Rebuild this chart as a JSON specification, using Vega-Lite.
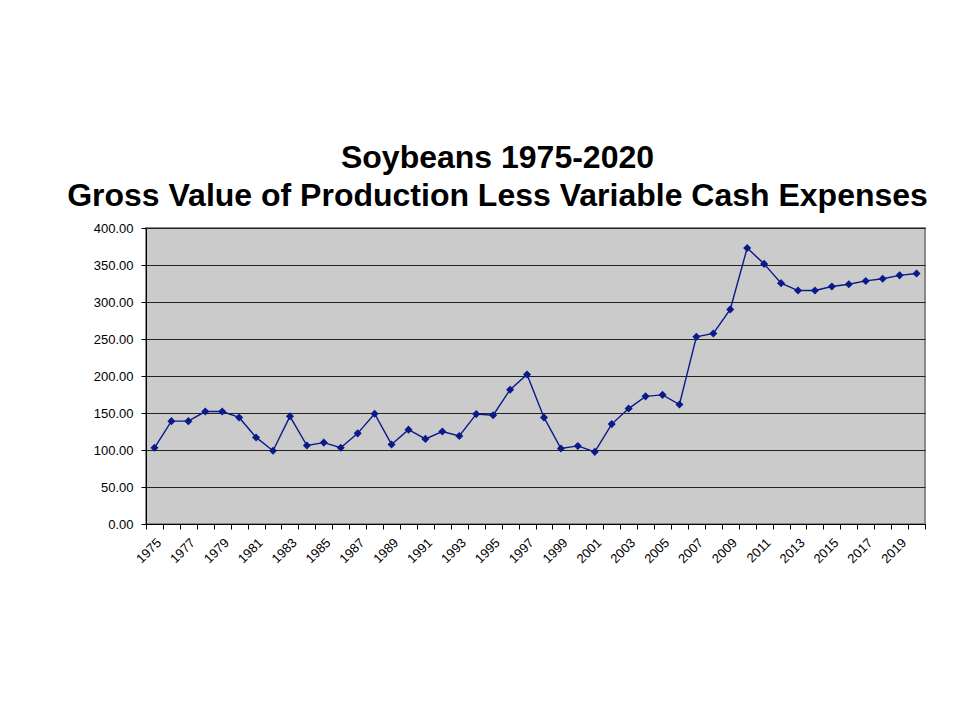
{
  "$schema": "https://vega.github.io/schema/vega-lite/v6.json",
  "autosize": {"type": "none"},
  "width": 779,
  "height": 296,
  "padding": {"left": 146, "top": 228, "right": 35, "bottom": 199},
  "background": "white",
  "title": {
    "text": ["Soybeans 1975-2020", "Gross Value of Production Less Variable Cash Expenses"],
    "font": "Liberation Sans",
    "fontSize": 32,
    "fontWeight": "bold",
    "lineHeight": 38,
    "color": "black",
    "anchor": "middle",
    "frame": "group",
    "dx": -38,
    "offset": 9
  },
  "data": {
    "values": [
      {"year": 1975, "value": 103}, {"year": 1976, "value": 139}, {"year": 1977, "value": 139},
      {"year": 1978, "value": 152}, {"year": 1979, "value": 152}, {"year": 1980, "value": 144},
      {"year": 1981, "value": 117}, {"year": 1982, "value": 99}, {"year": 1983, "value": 145.5},
      {"year": 1984, "value": 106}, {"year": 1985, "value": 110}, {"year": 1986, "value": 103},
      {"year": 1987, "value": 122.5}, {"year": 1988, "value": 149}, {"year": 1989, "value": 107.5},
      {"year": 1990, "value": 127.5}, {"year": 1991, "value": 115}, {"year": 1992, "value": 125},
      {"year": 1993, "value": 119}, {"year": 1994, "value": 148.5}, {"year": 1995, "value": 147},
      {"year": 1996, "value": 181.5}, {"year": 1997, "value": 202}, {"year": 1998, "value": 144},
      {"year": 1999, "value": 102}, {"year": 2000, "value": 105.5}, {"year": 2001, "value": 97.5},
      {"year": 2002, "value": 135}, {"year": 2003, "value": 156}, {"year": 2004, "value": 172.5},
      {"year": 2005, "value": 174.5}, {"year": 2006, "value": 161.5}, {"year": 2007, "value": 253},
      {"year": 2008, "value": 257.5}, {"year": 2009, "value": 290}, {"year": 2010, "value": 373},
      {"year": 2011, "value": 351.5}, {"year": 2012, "value": 325.5}, {"year": 2013, "value": 315.5},
      {"year": 2014, "value": 315.5}, {"year": 2015, "value": 321}, {"year": 2016, "value": 324},
      {"year": 2017, "value": 328.5}, {"year": 2018, "value": 331.5}, {"year": 2019, "value": 336},
      {"year": 2020, "value": 338.5}
    ]
  },
  "encoding": {
    "x": {
      "field": "year",
      "type": "ordinal",
      "scale": {"paddingInner": 0, "paddingOuter": 0},
      "axis": {
        "title": null,
        "labelExpr": "datum.value % 2 == 1 ? datum.label : ''",
        "labelAngle": -45,
        "labelFont": "Liberation Sans",
        "labelFontSize": 13,
        "labelColor": "black",
        "labelPadding": 7,
        "domainColor": "black",
        "tickColor": "black",
        "tickBand": "extent",
        "tickSize": 5,
        "grid": false
      }
    },
    "y": {
      "field": "value",
      "type": "quantitative",
      "scale": {"domain": [0, 400], "nice": false, "zero": true},
      "axis": {
        "title": null,
        "values": [0, 50, 100, 150, 200, 250, 300, 350, 400],
        "format": ".2f",
        "labelFont": "Liberation Sans",
        "labelFontSize": 13,
        "labelColor": "black",
        "labelPadding": 8,
        "domainColor": "black",
        "tickColor": "black",
        "tickSize": 5,
        "grid": true,
        "gridColor": "#222222",
        "gridWidth": 1,
        "gridOpacity": 1
      }
    }
  },
  "layer": [
    {"mark": {"type": "line", "color": "#0a1a8a", "strokeWidth": 1.4}},
    {"mark": {"type": "point", "shape": "diamond", "filled": true, "color": "#0a1a8a", "size": 65, "opacity": 1}}
  ],
  "config": {
    "view": {"fill": "#cbcbcb", "stroke": "#8a8a8a", "strokeWidth": 2}
  }
}
